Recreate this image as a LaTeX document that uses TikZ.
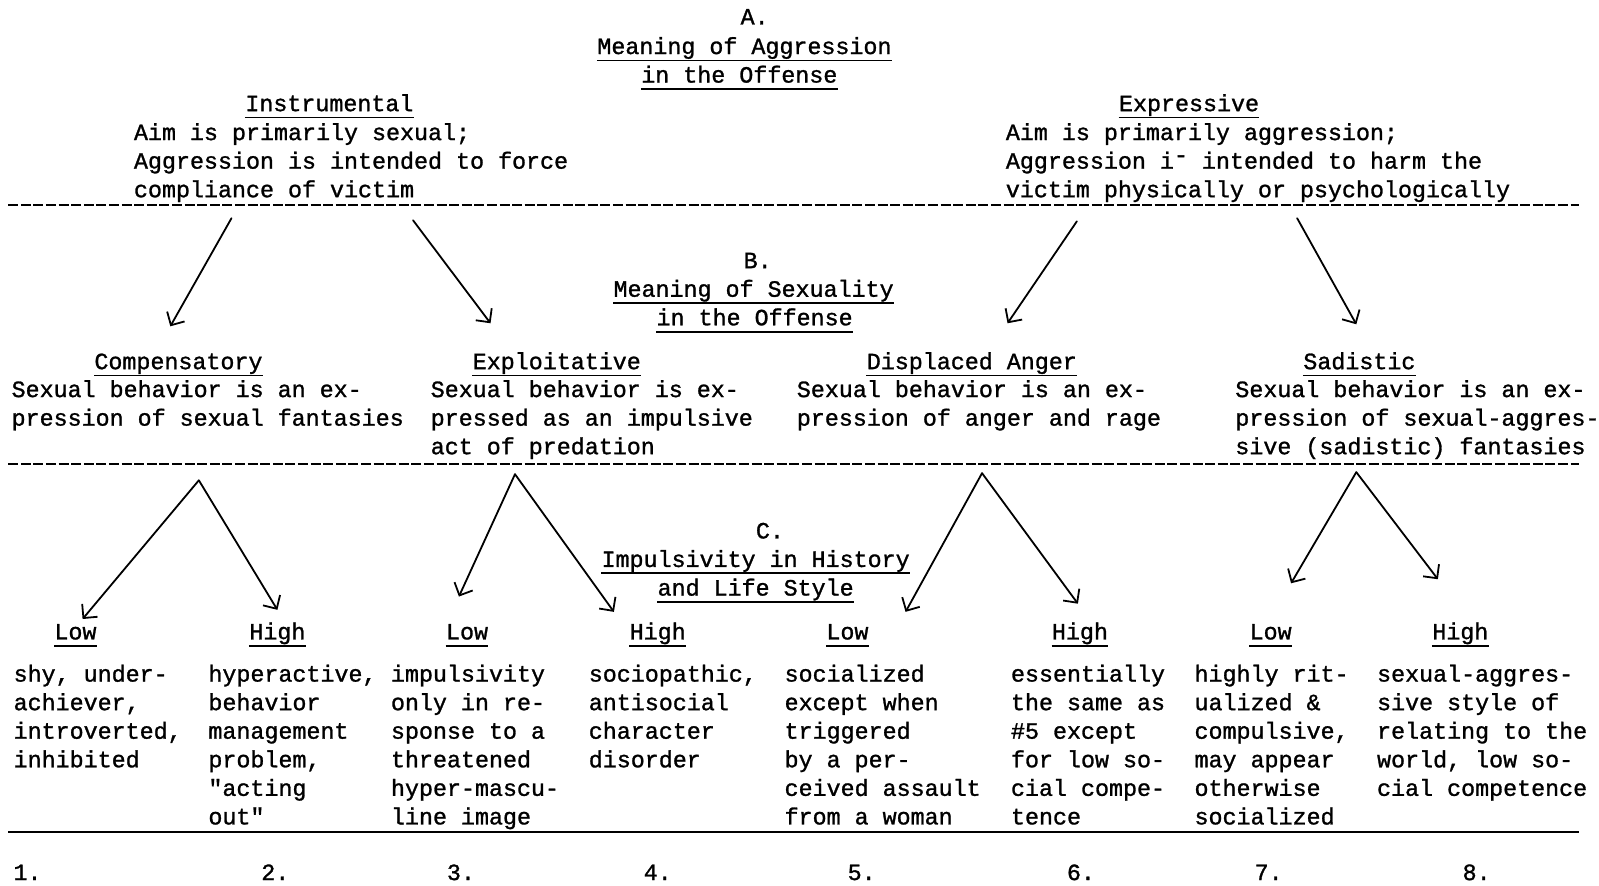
\documentclass[tikz,border=0pt]{standalone}
\usepackage{fontspec}
\usetikzlibrary{arrows.meta}
\newfontfamily\tw[FakeBold=1.2]{Liberation Mono}
\tikzset{
 x=0.5099pt, y=-0.5099pt,
 txt/.style={font=\tw\fontsize{11.67pt}{14.28pt}\selectfont, inner sep=0pt, text=black},
 ctr/.style={txt, anchor=base},
 lft/.style={txt, anchor=base west},
 blk/.style={txt, anchor=north west, align=left, yshift=10pt},
 ulline/.style={line width=0.9pt},
 dashline/.style={line width=1.1pt, dash pattern=on 5pt off 1.3pt},
 solidline/.style={line width=1.2pt},
 arr/.style={line width=0.9pt, -{Straight Barb[length=5pt,width=10pt]}, line cap=round},
}
\newcommand\ulnode[4][ctr]{\node[#1] (#2) at (#3) {#4}; \draw[ulline] ([yshift=-3.2pt]#2.base west) -- ([yshift=-3.2pt]#2.base east);}
\begin{document}
\begin{tikzpicture}
\fill[white] (0,0) rectangle (1568,868);
\useasboundingbox (0,0) rectangle (1568,868);

% ---------- Level A ----------
\node[ctr] (A) at (740,24) {A.};
\ulnode{Atitle1}{730,53}{Meaning of Aggression}
\ulnode{Atitle2}{725,81}{in the Offense}
\ulnode{instr}{323,109}{Instrumental}
\node[blk] (instrtxt) at (131,137) {\strut Aim is primarily sexual;\\Aggression is intended to force\\compliance of victim};
\ulnode{expr}{1166,109}{Expressive}
\node[blk] (exprtxt) at (986,137) {\strut Aim is primarily aggression;\\Aggression i\raisebox{0.5ex}{-} intended to harm the\\victim physically or psychologically};

\coordinate (L1a) at (8,201);
\coordinate (L1b) at (1548,201);
\draw[dashline] (L1a) -- (L1b);

% arrows A -> B
\coordinate (a1s) at (227,214);  \coordinate (a1e) at (167,320);
\coordinate (a2s) at (405,216);  \coordinate (a2e) at (481,317);
\coordinate (a3s) at (1056,217); \coordinate (a3e) at (988,317);
\coordinate (a4s) at (1272,214); \coordinate (a4e) at (1330,318);
\draw[arr] (a1s) -- (a1e);
\draw[arr] (a2s) -- (a2e);
\draw[arr] (a3s) -- (a3e);
\draw[arr] (a4s) -- (a4e);

% ---------- Level B ----------
\node[ctr] (B) at (743,263) {B.};
\ulnode{Btitle1}{739,291}{Meaning of Sexuality}
\ulnode{Btitle2}{740,319}{in the Offense}

\ulnode{comp}{175,362}{Compensatory}
\node[blk] (comptxt) at (11,389) {\strut Sexual behavior is an ex-\\pression of sexual fantasies};
\ulnode{expl}{546,362}{Exploitative}
\node[blk] (expltxt) at (422,389) {\strut Sexual behavior is ex-\\pressed as an impulsive\\act of predation};
\ulnode{disp}{953,362}{Displaced Anger}
\node[blk] (disptxt) at (781,389) {\strut Sexual behavior is an ex-\\pression of anger and rage};
\ulnode{sadi}{1333,362}{Sadistic}
\node[blk] (saditxt) at (1211,389) {\strut Sexual behavior is an ex-\\pression of sexual-aggres-\\sive (sadistic) fantasies};

\coordinate (L2a) at (8,455);
\coordinate (L2b) at (1548,455);
\draw[dashline] (L2a) -- (L2b);

% arrows B -> C
\coordinate (p1) at (195,471);
\coordinate (p2) at (505,465);
\coordinate (p3) at (963,464);
\coordinate (p4) at (1330,463);
\coordinate (t1) at (81,607);   \coordinate (t2) at (272,598);
\coordinate (t3) at (450,585);  \coordinate (t4) at (602,600);
\coordinate (t5) at (888,600);  \coordinate (t6) at (1057,592);
\coordinate (t7) at (1266,572); \coordinate (t8) at (1410,568);
\draw[arr] (p1) -- (t1);
\draw[arr] (p1) -- (t2);
\draw[arr] (p2) -- (t3);
\draw[arr] (p2) -- (t4);
\draw[arr] (p3) -- (t5);
\draw[arr] (p3) -- (t6);
\draw[arr] (p4) -- (t7);
\draw[arr] (p4) -- (t8);

% ---------- Level C ----------
\node[ctr] (C) at (755,528) {C.};
\ulnode{Ctitle1}{741,556}{Impulsivity in History}
\ulnode{Ctitle2}{741,584}{and Life Style}

\ulnode{low1}{74,627}{Low}
\ulnode{high2}{272,627}{High}
\ulnode{low3}{458,627}{Low}
\ulnode{high4}{645,627}{High}
\ulnode{low5}{831,627}{Low}
\ulnode{high6}{1059,627}{High}
\ulnode{low7}{1246,627}{Low}
\ulnode{high8}{1432,627}{High}

\node[blk] (d1) at (13,668) {\strut shy, under-\\achiever,\\introverted,\\inhibited};
\node[blk] (d2) at (204,668) {\strut hyperactive,\\behavior\\management\\problem,\\"acting\\out"};
\node[blk] (d3) at (383,668) {\strut impulsivity\\only in re-\\sponse to a\\threatened\\hyper-mascu-\\line image};
\node[blk] (d4) at (577,668) {\strut sociopathic,\\antisocial\\character\\disorder};
\node[blk] (d5) at (769,668) {\strut socialized\\except when\\triggered\\by a per-\\ceived assault\\from a woman};
\node[blk] (d6) at (991,668) {\strut essentially\\the same as\\\#5 except\\for low so-\\cial compe-\\tence};
\node[blk] (d7) at (1171,668) {\strut highly rit-\\ualized \&\\compulsive,\\may appear\\otherwise\\socialized};
\node[blk] (d8) at (1350,668) {\strut sexual-aggres-\\sive style of\\relating to the\\world, low so-\\cial competence};

\coordinate (L3a) at (8,816);
\coordinate (L3b) at (1548,816);
\draw[solidline] (L3a) -- (L3b);

\node[ctr] (n1) at (27,863) {1.};
\node[ctr] (n2) at (270,863) {2.};
\node[ctr] (n3) at (452,863) {3.};
\node[ctr] (n4) at (645,863) {4.};
\node[ctr] (n5) at (845,863) {5.};
\node[ctr] (n6) at (1060,863) {6.};
\node[ctr] (n7) at (1244,863) {7.};
\node[ctr] (n8) at (1448,863) {8.};
\end{tikzpicture}
\end{document}
